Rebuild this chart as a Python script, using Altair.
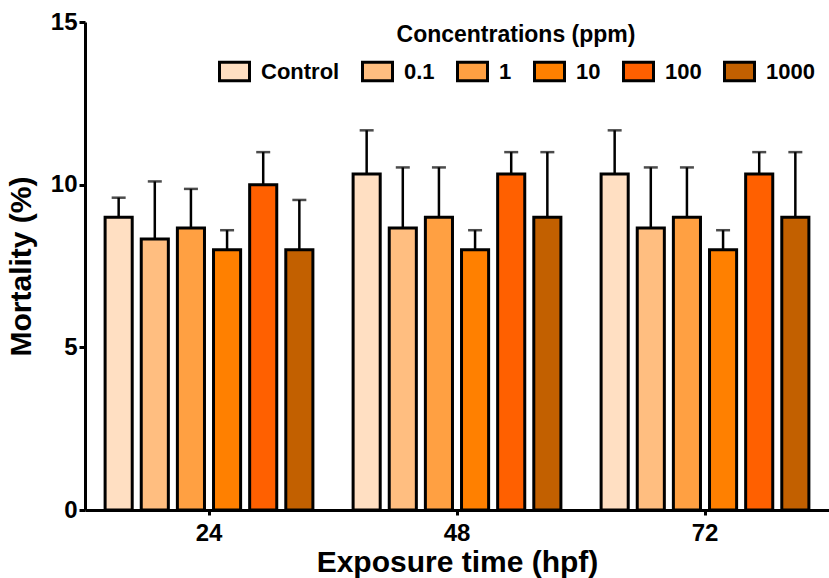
import altair as alt
import pandas as pd

times = ["24", "48", "72"]
concs = ["Control", "0.1", "1", "10", "100", "1000"]
colors = ["#FFDFC2", "#FFBE80", "#FFA042", "#FF8000", "#FF6000", "#C26000"]

mean_24 = [9.0, 8.33, 8.67, 8.0, 10.0, 8.0]
upper_24 = [9.6, 10.1, 9.87, 8.6, 11.0, 9.53]
mean_48 = [10.33, 8.67, 9.0, 8.0, 10.33, 9.0]
upper_48 = [11.67, 10.53, 10.53, 8.6, 11.0, 11.0]
mean_72 = [10.33, 8.67, 9.0, 8.0, 10.33, 9.0]
upper_72 = [11.67, 10.53, 10.53, 8.6, 11.0, 11.0]

rows = []
for t, means, ups in zip(times, [mean_24, mean_48, mean_72], [upper_24, upper_48, upper_72]):
    for c, m, u in zip(concs, means, ups):
        rows.append({"time": t, "conc": c, "mortality": m, "upper": u})
df = pd.DataFrame(rows)

FONT = "Liberation Sans"

x_enc = alt.X("time:N", sort=times,
              scale=alt.Scale(paddingInner=0.133, paddingOuter=0.0665),
              axis=alt.Axis(title="Exposure time (hpf)", labelAngle=0))
xo_enc = alt.XOffset("conc:N", sort=concs,
                     scale=alt.Scale(paddingInner=0.25, paddingOuter=0.1))
y_scale = alt.Scale(domain=[0, 15], nice=False)

base = alt.Chart(df)

bars = base.mark_bar(stroke="black", strokeWidth=3).encode(
    x=x_enc,
    xOffset=xo_enc,
    y=alt.Y("mortality:Q", scale=y_scale,
            axis=alt.Axis(title="Mortality (%)", values=[0, 5, 10, 15])),
    color=alt.Color("conc:N", sort=concs,
                    scale=alt.Scale(domain=concs, range=colors),
                    legend=alt.Legend(
                        title="Concentrations (ppm)",
                        orient="none", legendX=133, legendY=2,
                        direction="horizontal", columns=6,
                        gridAlign="none",
                        titleAnchor="middle", titleLimit=600,
                        titleFont=FONT, titleFontSize=23, titleFontWeight="bold",
                        titleColor="black", titlePadding=8,
                        labelFont=FONT, labelFontSize=22, labelFontWeight="bold",
                        labelColor="black", labelOffset=10, labelLimit=200,
                        columnPadding=16,
                        symbolType="M-1,-0.62H1V0.62H-1Z",
                        symbolSize=900,
                        symbolStrokeColor="black",
                        symbolStrokeWidth=3,
                        symbolOpacity=1,
                        padding=0,
                    )),
)

err_rule = base.mark_rule(color="black", strokeWidth=2.5).encode(
    x=x_enc, xOffset=xo_enc,
    y=alt.Y("mortality:Q", scale=y_scale),
    y2="upper:Q",
)
err_cap = base.mark_tick(color="black", thickness=2.5, size=14, orient="horizontal").encode(
    x=x_enc, xOffset=xo_enc,
    y=alt.Y("upper:Q", scale=y_scale),
)

chart = alt.layer(err_rule, err_cap, bars).properties(
    width=744, height=488,
    autosize=alt.AutoSizeParams(type="none"),
    padding={"left": 85, "top": 22, "right": 0, "bottom": 68},
).configure_view(stroke=None).configure_axis(
    grid=False,
    domainColor="black", domainWidth=3,
    tickColor="black", tickWidth=3,
    labelFont=FONT, labelFontSize=24, labelFontWeight="bold", labelColor="black",
    titleFont=FONT, titleFontSize=30, titleFontWeight="bold", titleColor="black",
).configure_axisY(
    tickSize=6, labelPadding=2, titlePadding=14,
).configure_axisX(
    tickSize=5, labelPadding=6, titlePadding=2,
)

chart.save("out.html", embed_options={"renderer": "svg", "actions": False})
